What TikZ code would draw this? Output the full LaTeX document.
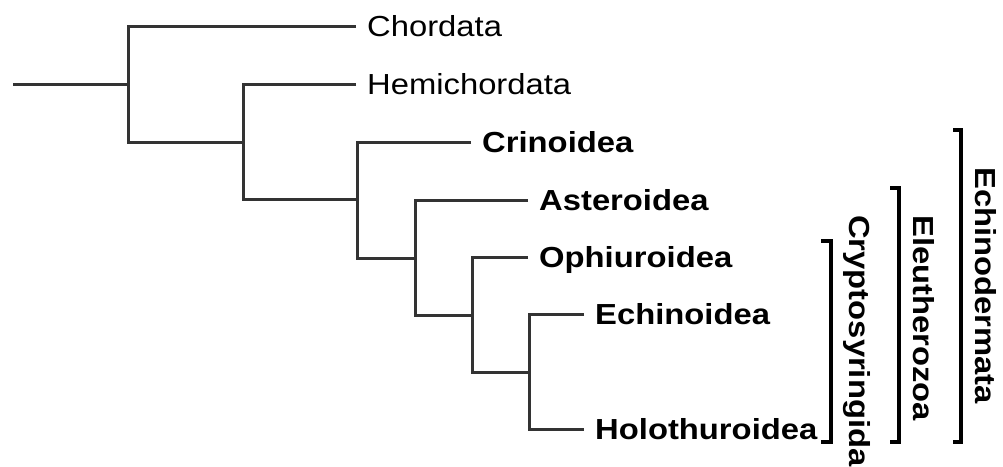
\documentclass[tikz,border=0pt]{standalone}
\usepackage{fontspec}
\newfontfamily\labfont[FakeStretch=1.13]{Liberation Sans}
\begin{document}
\begin{tikzpicture}[x=1pt,y=-1pt,
  branch/.style={draw=black!80, line width=3pt},
  bracketline/.style={draw=black, line width=4.5pt},
  taxon/.style={anchor=west, inner xsep=11pt, inner ysep=0pt, text height=21pt, text depth=0pt,
    font=\labfont\fontsize{29}{31}\selectfont},
  bold/.style={taxon, font=\labfont\bfseries\fontsize{29}{31}\selectfont},
  clade/.style={anchor=base west, inner sep=0pt, rotate=-90,
    font=\labfont\bfseries\fontsize{29}{31}\selectfont}]
\useasboundingbox (0,0) rectangle (1003,466);
% internal nodes
\coordinate (root) at (13,84);
\coordinate (n1) at (128,84);
\coordinate (n2) at (243,142);
\coordinate (n3) at (357,199);
\coordinate (n4) at (415,258);
\coordinate (n5) at (472,315);
\coordinate (n6) at (529,372);
% leaves
\node[taxon] (chord) at (356,26) {Chordata};
\node[taxon] (hemi) at (356,84) {Hemichordata};
\node[bold] (crin) at (471,142) {Crinoidea};
\node[bold] (aster) at (528,200) {Asteroidea};
\node[bold] (ophi) at (528,257) {Ophiuroidea};
\node[bold] (echi) at (584,314) {Echinoidea};
\node[bold] (holo) at (584,429) {Holothuroidea};
% branches
\draw[branch] (root) -- (n1);
\draw[branch] (chord.west) -| (n1) |- (n2);
\draw[branch] (hemi.west) -| (n2) |- (n3);
\draw[branch] (crin.west) -| (n3) |- (n4);
\draw[branch] (aster.west) -| (n4) |- (n5);
\draw[branch] (ophi.west) -| (n5) |- (n6);
\draw[branch] (echi.west) -| (n6) |- (holo.west);
% brackets
\draw[bracketline] (821,241) -- (831,241) -- (831,442) -- (821,442);
\draw[bracketline] (890,188) -- (899,188) -- (899,442) -- (890,442);
\draw[bracketline] (953,130) -- (961,130) -- (961,442) -- (953,442);
% clade names
\node[clade] (crypto) at (849,215) {Cryptosyringida};
\node[clade] (eleu) at (913,215) {Eleutherozoa};
\node[clade] (echino) at (975,167) {Echinodermata};
\end{tikzpicture}
\end{document}
